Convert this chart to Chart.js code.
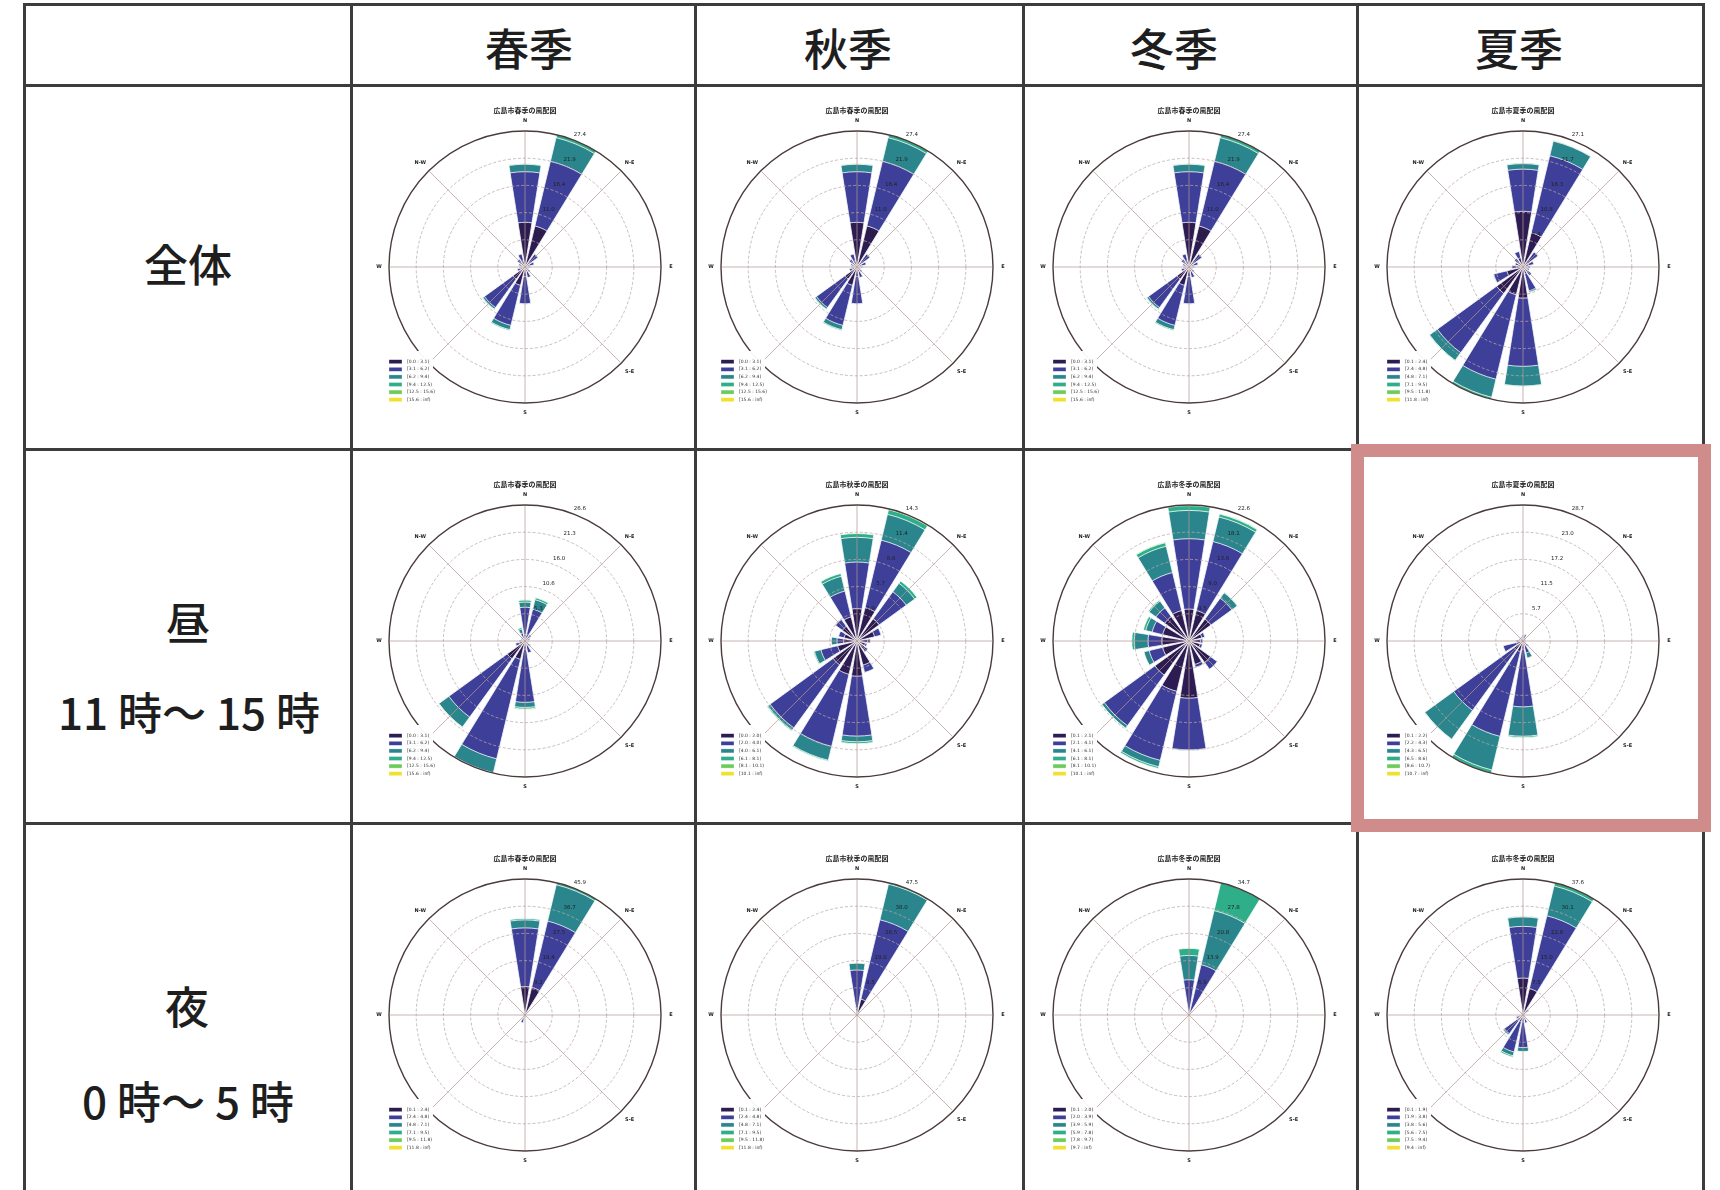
<!DOCTYPE html>
<html lang="ja">
<head>
<meta charset="utf-8">
<title>広島市 風配図</title>
<script src="https://cdn.jsdelivr.net/npm/chart.js@4.4.1/dist/chart.umd.min.js"></script>
<style>
  html, body { margin:0; padding:0; background:#ffffff; }
  #page { position:relative; width:1720px; height:1190px; overflow:hidden; background:#ffffff;
          font-family:"Noto Sans CJK JP","Noto Sans",sans-serif; color:#1e1e1e; }
  .vl { position:absolute; top:3px; width:3px; height:1187px; background:#3c3c3c; z-index:2; }
  .hl { position:absolute; left:23px; width:1681px; height:3px; background:#3c3c3c; z-index:2; }
  .cap { position:absolute; transform:translate(-50%,-50%); font-size:44px; font-weight:500; line-height:1; white-space:nowrap; }
  .rose { position:absolute; width:340px; height:340px; z-index:1; }
  #mark { position:absolute; left:1351px; top:444px; width:360px; height:388px; border:13px solid #d08b8b; box-sizing:border-box; z-index:3; }
</style>
</head>
<body>
<div id="page">
  <div class="vl" style="left:23px"></div>
  <div class="vl" style="left:350px"></div>
  <div class="vl" style="left:694px"></div>
  <div class="vl" style="left:1022px"></div>
  <div class="vl" style="left:1356px"></div>
  <div class="vl" style="left:1702px"></div>
  <div class="hl" style="top:3px"></div>
  <div class="hl" style="top:84px"></div>
  <div class="hl" style="top:448px"></div>
  <div class="hl" style="top:822px"></div>
  <div id="mark"></div>
</div>
<script>
// ---------------- data ----------------
const directions = ['N','NNE','NE','ENE','E','ESE','SE','SSE','S','SSW','SW','WSW','W','WNW','NW','NNW'];
const compassLabels = ['N','N-E','E','S-E','S','S-W','W','N-W'];
const seasonHeaders = ['春季','秋季','冬季','夏季'];
const periodLabels = [['全体'], ['昼','11 時〜 15 時'], ['夜','0 時〜 5 時']];
const binColors = ['#2d1c52','#3e3f98','#2a868c','#2eae89','#6ccb5a','#f0e12e'];

// frequency (%) per direction (rows, N..NNW) and speed bin (columns)
const allSpring = [
  [9.0,10.2,1.5,0.1],[8.5,13.4,4.9,0.6],[1.2,2.0,0.1],[0.9,1.0],
  [0.6,0.5],[0.5,0.3],[0.7,0.6],[1.0,1.2],
  [1.9,5.5,0.1],[3.8,8.3,0.9,0.2],[3.0,7.1,0.4,0.1],[0.9,0.7],
  [0.6,0.5],[0.7,0.6],[0.9,1.0],[1.3,1.4]
];
const allSummer = [
  [11.1,8.4,1.1,0.1],[7.0,15.8,3.0,0.1],[1.8,1.9,0.1],[1.2,1.0],
  [0.8,0.6],[0.8,0.5],[1.2,0.9],[1.4,3.5,0.3],
  [6.2,13.6,3.9,0.1],[5.7,17.3,3.7,0.4],[6.5,14.6,1.9,0.1],[3.3,2.7,0.1],
  [1.3,0.9],[1.0,0.6],[1.2,0.9],[1.9,1.3]
];
const daySpring = [
  [1.3,5.3,1.0,0.4,0.1],[1.3,5.1,1.9,0.4,0.1],[0.6,0.9],[0.5,0.5],
  [0.4,0.4],[0.4,0.3],[0.6,0.7],[0.8,1.6],
  [1.6,10.4,1.0,0.3,0.1],[3.7,20.0,2.8,0.1],[4.3,14.1,2.4,0.1],[1.2,0.7],
  [0.6,0.5],[0.4,0.4],[0.5,0.5],[0.5,1.1,0.8,0.3]
];
const dayAutumn = [
  [3.4,4.9,2.6,0.4],[3.6,7.3,2.8,0.5,0.1],[2.9,3.5,1.1,0.3],[1.9,0.7],
  [1.1,0.3],[0.9,0.2],[1.1,0.3],[2.6,0.8],
  [3.7,6.3,0.6,0.2],[3.6,7.8,1.5,0.1],[3.1,8.2,0.3,0.1],[2.1,1.8,0.7,0.1],
  [1.4,0.7,0.6],[1.4,0.6],[1.9,0.9],[2.6,2.8,1.6,0.3]
];
const dayWinter = [
  [5.3,11.7,4.7,0.8,0.1],[5.2,11.8,4.2,0.5,0.1],[4.5,4.3,1.1,0.1],[2.2,0.5],
  [1.9,0.4],[1.9,0.4],[4.4,1.4],[4.0,0.5],
  [9.5,8.6,0.1],[8.6,11.8,1.1,0.3],[7.0,10.4,0.5],[4.5,2.3,0.9],
  [4.5,2.3,2.3,0.4],[4.5,1.8,1.1,0.4],[5.0,1.8,1.4,0.2],[5.2,6.5,4.5,0.6,0.1]
];
const daySummer = [
  [0.5,0.6],[0.6,0.8],[0.4,0.4],[0.3,0.3],
  [0.3,0.2],[0.3,0.2],[0.6,0.8],[0.9,1.7,1.1],
  [1.7,12.2,6.2,0.3],[2.3,18.4,7.3,0.7],[2.3,15.8,7.5,0.1],[1.4,2.9],
  [0.7,0.7],[0.4,0.5],[0.4,0.5],[0.4,0.5]
];
const nightSpring = [
  [9.6,19.8,2.7,0.5],[9.6,23.0,12.6,0.7],[0.3,0.2],[0.1],
  [0],[0],[0.1],[0.2],
  [0.4,0.3],[1.2,1.5],[0.3,0.2],[0.1],
  [0],[0],[0.1],[0.3,0.2]
];
const nightAutumn = [
  [2.4,13.3,2.4,0.1],[5.7,28.5,12.8,0.5],[0.3,0.2],[0.1],
  [0],[0],[0],[0.1],
  [0.1],[0.2],[0.1],[0],
  [0],[0],[0],[0.1]
];
const nightWinter = [
  [0.7,8.3,6.2,1.8],[0.7,12.5,14.2,7.3],[0.2,0.2],[0.1],
  [0],[0],[0],[0],
  [0.1],[0.1],[0],[0],
  [0],[0],[0],[0.1]
];
const nightLast = [
  [10.2,14.3,2.6,0.2],[7.5,20.7,8.5,0.9],[1.0,0.9],[0.4],
  [0.2],[0.2],[0.5,0.3],[1.2,1.1],
  [1.9,7.1,1.1],[1.9,8.6,1.1,0.4],[1.9,4.5,0.4],[1.0,0.9],
  [0.3],[0.2],[0.3],[0.5,0.3]
];

// speed-bin edges shown in each legend
const edgesA = [0.0, 3.1, 6.2, 9.4, 12.5, 15.6];
const edgesB = [0.1, 2.4, 4.8, 7.1, 9.5, 11.8];
const edgesD = [0.0, 2.0, 4.0, 6.1, 8.1, 10.1];
const edgesE = [0.1, 2.1, 4.1, 6.1, 8.1, 10.1];
const edgesF = [0.1, 2.2, 4.3, 6.5, 8.6, 10.7];
const edgesG = [0.1, 2.4, 4.8, 7.1, 9.5, 11.8];
const edgesI = [0.1, 2.0, 3.9, 5.9, 7.8, 9.7];
const edgesJ = [0.1, 1.9, 3.8, 5.6, 7.5, 9.4];

const titleSpring = '広島市春季の風配図';
const titleAutumn = '広島市秋季の風配図';
const titleWinter = '広島市冬季の風配図';
const titleSummer = '広島市夏季の風配図';

// panels in table order (row by row)
const panels = [
  [allSpring, titleSpring, edgesA], [allSpring, titleSpring, edgesA], [allSpring, titleSpring, edgesA], [allSummer, titleSummer, edgesB],
  [daySpring, titleSpring, edgesA], [dayAutumn, titleAutumn, edgesD], [dayWinter, titleWinter, edgesE], [daySummer, titleSummer, edgesF],
  [nightSpring, titleSpring, edgesG], [nightAutumn, titleAutumn, edgesG], [nightWinter, titleWinter, edgesI], [nightLast, titleWinter, edgesJ]
];

// ---------------- layout ----------------
const colCenters = [525, 857, 1189, 1523];
const rowCenters = [267, 641, 1015];
const headerPos = [[529,47],[848,47],[1174,47],[1519,47]];
const periodPos = [[[188,263]], [[188,621],[189,711]], [[187,1005],[188,1100]]];

const page = document.getElementById('page');
function addCaption(text, x, y) {
  const d = document.createElement('div');
  d.className = 'cap';
  d.textContent = text;
  d.style.left = x + 'px';
  d.style.top = y + 'px';
  page.appendChild(d);
}
seasonHeaders.forEach((t, i) => addCaption(t, headerPos[i][0], headerPos[i][1]));
periodLabels.forEach((lines, r) => lines.forEach((t, k) => addCaption(t, periodPos[r][k][0], periodPos[r][k][1])));

function binLabel(edges, b) {
  return b < edges.length - 1
    ? '[' + edges[b].toFixed(1) + ' : ' + edges[b + 1].toFixed(1) + ')'
    : '[' + edges[b].toFixed(1) + ' : inf)';
}

const rosePlugin = {
  id: 'rose',
  afterDatasetsDraw(chart, args, opts) {
    const s = chart.scales.r;
    const ctx = chart.ctx;
    const cx = s.xCenter, cy = s.yCenter, R = s.drawingArea;
    const n = s.ticks.length;
    ctx.save();
    // radial grid (drawn over the bars, like the original)
    s.ticks.forEach((t, i) => {
      if (i === 0) return;
      const r = s.getDistanceFromCenterForValue(t.value);
      ctx.beginPath();
      ctx.arc(cx, cy, r, 0, Math.PI * 2);
      if (i === n - 1) {
        ctx.setLineDash([]);
        ctx.strokeStyle = '#4b3b3b';
        ctx.lineWidth = 1.4;
      } else {
        ctx.setLineDash([3, 2]);
        ctx.strokeStyle = 'rgba(186,168,168,0.95)';
        ctx.lineWidth = 0.8;
      }
      ctx.stroke();
    });
    ctx.setLineDash([]);
    ctx.strokeStyle = 'rgba(180,150,150,0.9)';
    ctx.lineWidth = 0.8;
    for (let k = 0; k < 8; k++) {
      const a = k * Math.PI / 4;
      ctx.beginPath();
      ctx.moveTo(cx, cy);
      ctx.lineTo(cx + (R - 1) * Math.sin(a), cy - (R - 1) * Math.cos(a));
      ctx.stroke();
    }
    // radial tick labels along NNE
    ctx.fillStyle = '#222';
    ctx.font = '5.5px "DejaVu Sans"';
    ctx.textAlign = 'center';
    ctx.textBaseline = 'middle';
    const la = 22.5 * Math.PI / 180;
    s.ticks.forEach((t, i) => {
      if (i === 0) return;
      const r = s.getDistanceFromCenterForValue(t.value) + 7.5;
      ctx.fillText(t.value.toFixed(1), cx + r * Math.sin(la), cy - r * Math.cos(la));
    });
    // compass labels
    ctx.font = 'bold 5px "DejaVu Sans"';
    compassLabels.forEach((lab, k) => {
      const a = k * Math.PI / 4;
      const r = R + (k % 2 ? 12 : 10);
      ctx.fillText(lab, cx + r * Math.sin(a), cy - r * Math.cos(a));
    });
    // title
    ctx.font = 'bold 7px "Noto Sans CJK JP"';
    ctx.fillText(opts.title, cx, cy - 157);
    // legend
    const lx = cx - 142, ly = cy + 84;
    ctx.fillStyle = 'rgba(255,255,255,0.96)';
    ctx.fillRect(lx, ly, 50, 56);
    chart.data.datasets.forEach((ds, b) => {
      const y = cy + 94.7 + b * 7.6;
      ctx.fillStyle = ds.backgroundColor;
      ctx.fillRect(cx - 136, y - 2, 13, 4);
      ctx.strokeStyle = 'rgba(255,255,255,0.6)';
      ctx.lineWidth = 0.5;
      ctx.strokeRect(cx - 136, y - 2, 13, 4);
      ctx.fillStyle = '#333';
      ctx.font = '4.5px "DejaVu Sans"';
      ctx.textAlign = 'left';
      ctx.fillText(ds.label, cx - 118, y);
    });
    ctx.restore();
  }
};

function makeRose(rows, title, edges, x, y) {
  const canvas = document.createElement('canvas');
  canvas.className = 'rose';
  canvas.width = 340;
  canvas.height = 340;
  canvas.style.left = (x - 170) + 'px';
  canvas.style.top = (y - 170) + 'px';
  page.appendChild(canvas);

  const labels = [];
  directions.forEach(d => { labels.push(d); labels.push(''); });
  const datasets = binColors.map((color, b) => {
    const data = [];
    rows.forEach(r => {
      let cum = 0;
      for (let k = 0; k <= b; k++) cum += (r[k] || 0);
      data.push(Math.round(cum * 100) / 100);
      data.push(0);
    });
    return {
      label: binLabel(edges, b),
      data,
      backgroundColor: color,
      borderColor: '#ffffff',
      borderWidth: c => (c.dataIndex % 2 ? 0 : 0.8),
      angle: c => (c.dataIndex % 2 ? 4.5 : 18)
    };
  });
  const totals = rows.map(r => r.reduce((a, v) => a + v, 0));
  const rmax = Math.round(Math.max(...totals) * 100) / 100;

  new Chart(canvas, {
    type: 'polarArea',
    data: { labels, datasets },
    options: {
      responsive: false,
      animation: false,
      events: [],
      layout: { padding: 34 },
      plugins: {
        legend: { display: false },
        tooltip: { enabled: false },
        rose: { title }
      },
      scales: {
        r: {
          min: 0,
          max: rmax,
          startAngle: -9,
          ticks: { display: false, count: 6 },
          grid: { display: false },
          angleLines: { display: false },
          pointLabels: { display: false }
        }
      }
    },
    plugins: [rosePlugin]
  });
}

panels.forEach((p, i) => {
  const r = Math.floor(i / 4), c = i % 4;
  makeRose(p[0], p[1], p[2], colCenters[c], rowCenters[r]);
});
</script>
</body>
</html>
